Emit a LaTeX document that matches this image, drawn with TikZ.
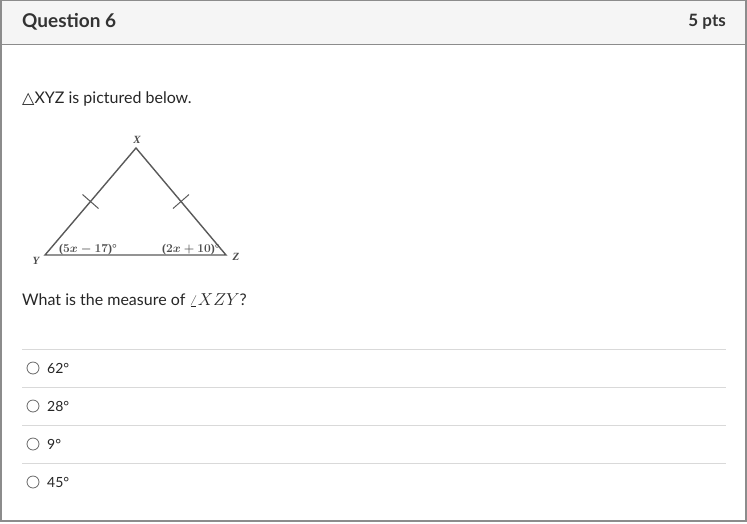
\documentclass[tikz,border=0pt]{standalone}
\usepackage{fontspec}
\usetikzlibrary{calc}
\setmainfont{Lato}
\newfontfamily\symfont{DejaVu Sans}
\newfontfamily\serifb{Liberation Serif}
\begin{document}
\begin{tikzpicture}[x=1pt,y=-1pt,
  txt/.style={anchor=west,inner sep=0pt,font=\fontsize{16}{19}\selectfont,text=black!85},
  opt/.style={anchor=west,inner sep=0pt,font=\fontsize{14}{17}\selectfont,text=black!85},
  sep/.style={draw=black!15,line width=1pt},
  radio/.style={circle,draw=black!60,line width=0.8pt,minimum size=12pt,inner sep=0pt},
  tri/.style={draw=black!65,line width=1.4pt},
  tick/.style={draw=black!65,line width=1pt},
  vlab/.style={inner sep=0pt,font=\serifb\bfseries\itshape\fontsize{11}{13}\selectfont,text=black!70},
  alab/.style={inner sep=0pt,font=\boldmath\serifb\bfseries\fontsize{12}{14}\selectfont,text=black!70}]
\useasboundingbox (0,0) rectangle (747,523);
% frame and header
\fill[black!4] (1,1) rectangle (746,44);
\draw[black!45,line width=1pt] (1,44) -- (746,44);
\draw[black!45,line width=1.2pt] (1,0) rectangle (746,521);
\node[anchor=west,inner sep=0pt,font=\bfseries\fontsize{19}{22}\selectfont,text=black!80] (title) at (22,22) {Question 6};
\node[anchor=east,inner sep=0pt,font=\bfseries\fontsize{17}{20}\selectfont,text=black!80] (pts) at (726,22) {5 pts};
% prompt
\node[txt] (prompt) at (22,99) {{\symfont △}XYZ is pictured below.};
% triangle
\coordinate (X) at (136,148);
\coordinate (Y) at (45,255);
\coordinate (Z) at (226,255);
\draw[tri,line join=miter] (X) -- (Y) -- (Z) -- cycle;
\draw[tick] ($(X)!0.5!(Y)+(-8,-7)$) -- ($(X)!0.5!(Y)+(8,7)$);
\draw[tick] ($(X)!0.5!(Z)+(-8,7)$) -- ($(X)!0.5!(Z)+(8,-7)$);
\node[vlab] (lx) at (137,140) {X};
\node[vlab] (ly) at (36,261) {Y};
\node[vlab] (lz) at (236,257) {Z};
\node[alab] (ay) at (88,250) {($5x-17$)°};
\node[alab] (az) at (191,250) {($2x+10$)°};
% question
\node[txt] (q) at (22,300) {What is the measure of $\angle XZY$?};
% options
\foreach \yy in {349,387,425,463} \draw[sep] (22,\yy) -- (726,\yy);
\foreach \yy/\lab/\nm in {368/62°/a,406/28°/b,444/9°/c,482/45°/d}{
  \node[radio] (r\nm) at (33,\yy) {};
  \node[opt] (o\nm) at (47,\yy) {\lab};
}
\end{tikzpicture}
\end{document}
